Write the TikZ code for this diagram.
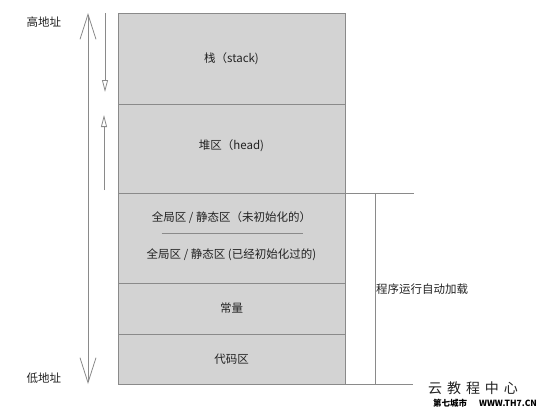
\documentclass[tikz,border=0pt]{standalone}
\usepackage{fontspec}
\setmainfont{Noto Sans CJK SC}
\usetikzlibrary{positioning,arrows.meta}

\definecolor{segfill}{HTML}{D3D3D3}
\definecolor{segline}{HTML}{8A8A8A}
\definecolor{inkgray}{HTML}{222222}

\tikzset{
  seg/.style={draw=segline, fill=segfill, line width=0.8pt, minimum width=227pt,
    inner sep=0pt, outer sep=0pt, text=inkgray, font=\fontsize{11.5}{13}\selectfont},
  lbl/.style={inner sep=0pt, text=inkgray, font=\fontsize{11.5}{13}\selectfont},
  addrline/.style={draw=segline, line width=0.8pt},
}

\begin{document}
\begin{tikzpicture}[x=1pt,y=-1pt]
  \useasboundingbox (0,0) rectangle (541,410);
  %%%%% SEGMENTS %%%%%
  \node[seg, minimum height=91pt, anchor=north west] (stack) at (118,13) {栈（stack)};
  \node[seg, minimum height=89pt, below=0pt of stack] (heap) {};
  \node[seg, minimum height=90pt, below=0pt of heap] (global) {};
  \node[seg, minimum height=51pt, below=0pt of global] (const) {常量};
  \node[seg, minimum height=50pt, below=0pt of const] (code) {代码区};

  \node[lbl] (heapText) at ([yshift=3pt]heap.center) {堆区（head)};
  \node[lbl] (bss) at ([yshift=20pt]global.center) {全局区 / 静态区（未初始化的）};
  \node[lbl] (data) at ([yshift=-17pt]global.center) {全局区 / 静态区 (已经初始化过的)};
  \draw[segline, line width=0.6pt] ([xshift=-70pt,yshift=5pt]global.center) -- ([xshift=71pt,yshift=5pt]global.center);

  %%%%% ADDRESS ARROWS %%%%%
  \coordinate (hiTop) at (88,13);
  \coordinate (hiBot) at (88,384);
  \draw[addrline, {Straight Barb[length=25pt,width=16pt]}-{Straight Barb[length=25pt,width=16pt]}] (hiTop) -- (hiBot);
  \node[lbl] (hiAddr) at (44,22) {高地址};
  \node[lbl] (loAddr) at (44,378) {低地址};

  \coordinate (stackFrom) at (105,13);
  \coordinate (stackTo) at (105,92);
  \draw[addrline, -{Triangle[open,length=12pt,width=6pt]}] (stackFrom) -- (stackTo);
  \coordinate (heapFrom) at (104,190);
  \coordinate (heapTo) at (104,115);
  \draw[addrline, -{Triangle[open,length=12pt,width=6pt]}] (heapFrom) -- (heapTo);

  %%%%% AUTO LOAD %%%%%
  \coordinate (loadTop) at (414,193);
  \coordinate (loadBot) at (413,384);
  \draw[addrline] (global.north east) -- (loadTop);
  \draw[addrline] (code.south east) -- (loadBot);
  \draw[addrline] (375,193) -- (375,384);
  \node[lbl, anchor=west] (load) at (376,289) {程序运行自动加载};

  %%%%% WATERMARK %%%%%
  \node[inner sep=0pt, text=inkgray, font=\fontsize{14}{16}\selectfont] (mark) at (473,388) {云\hspace{5pt}教\hspace{5pt}程\hspace{5pt}中\hspace{5pt}心};
  \node[inner sep=0pt, text=black, font=\fontsize{8.5}{9}\bfseries] (site) at (485,403) {第七城市\hspace{12pt}WWW.TH7.CN};
\end{tikzpicture}
\end{document}
